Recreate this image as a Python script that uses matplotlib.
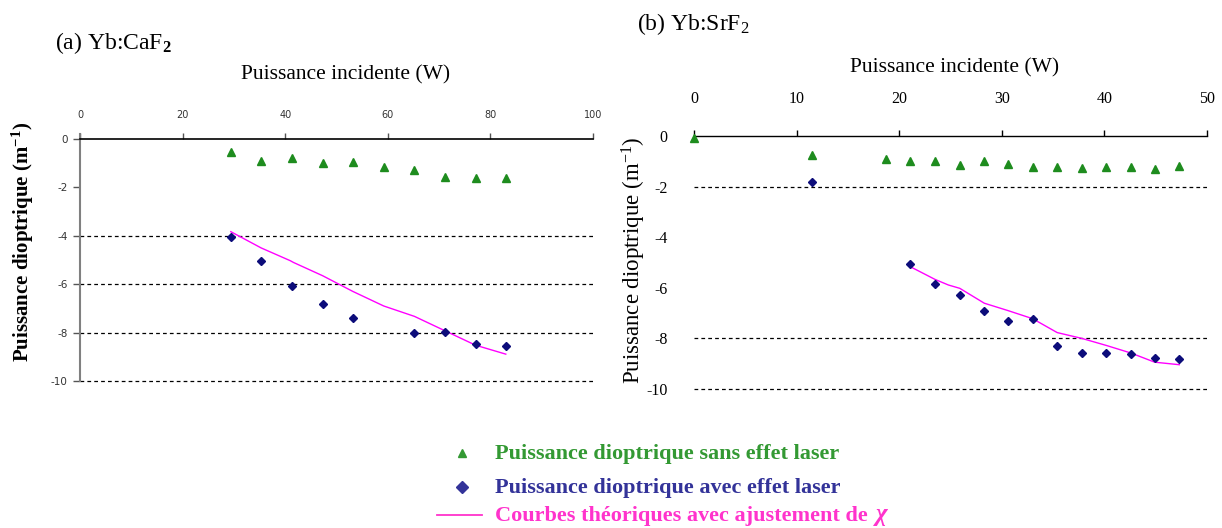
import matplotlib
matplotlib.use("Agg")
import matplotlib.pyplot as plt
from matplotlib.lines import Line2D

plt.rcParams['mathtext.fontset'] = 'custom'
plt.rcParams['mathtext.rm'] = 'Liberation Serif'
plt.rcParams['mathtext.bf'] = 'Liberation Serif:bold'
plt.rcParams['mathtext.default'] = 'regular'

# ---------------- data ----------------
# (a) Yb:CaF2
a_x_green = [29.4, 35.3, 41.3, 47.3, 53.2, 59.2, 65.2, 71.1, 77.1, 83.0]
a_y_green = [-0.52, -0.89, -0.78, -0.99, -0.95, -1.15, -1.30, -1.55, -1.63, -1.63]
a_x_blue = [29.4, 35.3, 41.3, 47.3, 53.2, 65.2, 71.1, 77.1, 83.0]
a_y_blue = [-4.03, -5.04, -6.07, -6.80, -7.38, -8.03, -7.96, -8.49, -8.55]
a_x_fit = [29.4, 35.3, 41.0, 41.6, 47.3, 53.2, 59.2, 65.2, 71.1, 77.1, 83.0]
a_y_fit = [-3.83, -4.50, -5.03, -5.10, -5.65, -6.30, -6.90, -7.33, -7.92, -8.52, -8.89]
a_xticks = [0, 20, 40, 60, 80, 100]
a_yticks = [0, -2, -4, -6, -8, -10]
a_grid = [-4, -6, -8, -10]

# (b) Yb:SrF2
b_x_green = [0.0, 11.5, 18.7, 21.1, 23.5, 25.9, 28.3, 30.6, 33.0, 35.4, 37.8, 40.2, 42.6, 44.9, 47.3]
b_y_green = [-0.08, -0.76, -0.91, -0.97, -0.97, -1.14, -0.97, -1.10, -1.21, -1.21, -1.27, -1.24, -1.21, -1.29, -1.18]
b_x_blue = [11.5, 21.1, 23.5, 25.9, 28.3, 30.6, 33.0, 35.4, 37.8, 40.2, 42.6, 44.9, 47.3]
b_y_blue = [-1.83, -5.04, -5.86, -6.28, -6.91, -7.33, -7.23, -8.31, -8.59, -8.59, -8.62, -8.78, -8.83]
b_x_fit = [21.1, 23.5, 24.8, 25.9, 28.3, 30.6, 33.0, 35.4, 37.8, 40.2, 42.6, 44.9, 47.3]
b_y_fit = [-5.17, -5.67, -5.89, -6.02, -6.61, -6.90, -7.22, -7.77, -8.00, -8.28, -8.58, -8.94, -9.04]
b_xticks = [0, 10, 20, 30, 40, 50]
b_yticks = [0, -2, -4, -6, -8, -10]
b_grid = [-2, -8, -10]

legend_labels = ["Puissance dioptrique sans effet laser",
                 "Puissance dioptrique avec effet laser",
                 "Courbes théoriques avec ajustement de "]
legend_symbol = "χ"

# ---------------- style ----------------
GREEN = "#1e8c1e"
BLUE = "#0c0c7a"
MAG = "#ff00ff"
SERIF = "Liberation Serif"

W, H = 1222, 528
fig = plt.figure(figsize=(W / 100, H / 100), dpi=100)


def fx(px):
    return px / W


def fy(py):
    return 1 - py / H


def make_axes(x0, x1, y0, y1):
    return fig.add_axes([fx(x0), fy(y1), fx(x1) - fx(x0), fy(y0) - fy(y1)])


def draw_data(ax, xg, yg, xb, yb, xf, yf, grid):
    for g in grid:
        ax.axhline(g, color="black", lw=0.9, ls=(0, (3, 2.5)), zorder=1, clip_on=False)
    ax.plot(xf, yf, color=MAG, lw=1.0, zorder=3)
    ax.plot(xg, yg, ls="none", marker="^", ms=5.5, color=GREEN, mec=GREEN, zorder=4,
            clip_on=False)
    ax.plot(xb, yb, ls="none", marker="D", ms=4.5, color=BLUE, mec=BLUE, zorder=4)


# ---------- panel (a) ----------
axa = make_axes(80, 593, 139, 381)
draw_data(axa, a_x_green, a_y_green, a_x_blue, a_y_blue, a_x_fit, a_y_fit, a_grid)
axa.set_xlim(0, 100)
axa.set_ylim(-10, 0)
axa.xaxis.tick_top()
axa.set_xticks(a_xticks)
axa.set_yticks(a_yticks)
axa.set_xticklabels([str(v) for v in a_xticks])
axa.set_yticklabels([str(v) for v in a_yticks])
for s in ["right", "bottom"]:
    axa.spines[s].set_visible(False)
axa.spines["top"].set_color("black")
axa.spines["top"].set_linewidth(1.2)
axa.spines["left"].set_color("#808080")
axa.spines["left"].set_linewidth(1.5)
axa.spines["left"].set_bounds(-10, 0.2)
axa.tick_params(axis="x", direction="out", length=4, width=1, color="#555555",
                pad=10, labelsize=7, labelcolor="#333333")
axa.tick_params(axis="y", direction="out", length=5, width=1, color="#555555",
                pad=4, labelsize=7.5, labelcolor="#333333")
for lab in axa.get_xticklabels() + axa.get_yticklabels():
    lab.set_family("DejaVu Sans")

fig.text(fx(55), fy(43), "(a) Yb:CaF$_\\mathbf{2}$", family=SERIF, fontsize=17,
         ha="left", va="center")
fig.text(fx(346), fy(75), "Puissance incidente (W)", family=SERIF, fontsize=15.5,
         ha="center", va="center")
fig.text(fx(23), fy(242), "Puissance dioptrique (m$^{\\mathbf{-1}}$)", family=SERIF,
         fontsize=15, fontweight="bold", rotation=90, ha="center", va="center")

# ---------- panel (b) ----------
axb = make_axes(694, 1207, 136, 389)
draw_data(axb, b_x_green, b_y_green, b_x_blue, b_y_blue, b_x_fit, b_y_fit, b_grid)
axb.set_xlim(0, 50)
axb.set_ylim(-10, 0)
axb.xaxis.tick_top()
axb.set_xticks(b_xticks)
axb.set_yticks(b_yticks)
axb.set_xticklabels([str(v) for v in b_xticks])
axb.set_yticklabels([str(v) for v in b_yticks])
for s in ["right", "bottom", "left"]:
    axb.spines[s].set_visible(False)
axb.spines["top"].set_color("black")
axb.spines["top"].set_linewidth(1.0)
axb.tick_params(axis="x", direction="out", length=4, width=1, color="black",
                pad=17, labelsize=11.5)
axb.tick_params(axis="y", length=0, pad=19, labelsize=11.5)
for lab in axb.get_xticklabels() + axb.get_yticklabels():
    lab.set_family(SERIF)

fig.text(fx(637), fy(24), "(b) Yb:SrF$_2$", family=SERIF, fontsize=17,
         ha="left", va="center")
fig.text(fx(955), fy(68), "Puissance incidente (W)", family=SERIF, fontsize=15.5,
         ha="center", va="center")
fig.text(fx(634), fy(260), "Puissance dioptrique (m$^{-1}$)", family=SERIF,
         fontsize=16.5, rotation=90, ha="center", va="center")

# ---------- legend ----------
leg_y = [453, 487, 515]
leg_colors = ["#339933", "#333399", "#ff33cc"]
fig.add_artist(Line2D([fx(462)], [fy(leg_y[0])], ls="none", marker="^", ms=6,
                      color="#339933", transform=fig.transFigure))
fig.add_artist(Line2D([fx(462)], [fy(leg_y[1])], ls="none", marker="D", ms=6.5,
                      color="#333399", transform=fig.transFigure))
fig.add_artist(Line2D([fx(437), fx(482)], [fy(leg_y[2]), fy(leg_y[2])], lw=1.3,
                      color="#ff33cc", transform=fig.transFigure))
texts = []
for lab, y, c in zip(legend_labels, leg_y, leg_colors):
    t = fig.text(fx(495), fy(y + 6), lab, family=SERIF, fontsize=16, fontweight="bold",
                 color=c, ha="left", va="baseline")
    texts.append(t)

fig.canvas.draw()
bb = texts[2].get_window_extent(renderer=fig.canvas.get_renderer())
fig.text(bb.x1 / W + 0.002, fy(leg_y[2] + 6), legend_symbol, family=SERIF,
         fontsize=18, fontweight="bold", style="italic", color=leg_colors[2],
         ha="left", va="baseline")

fig.savefig("out.png", dpi=100)
